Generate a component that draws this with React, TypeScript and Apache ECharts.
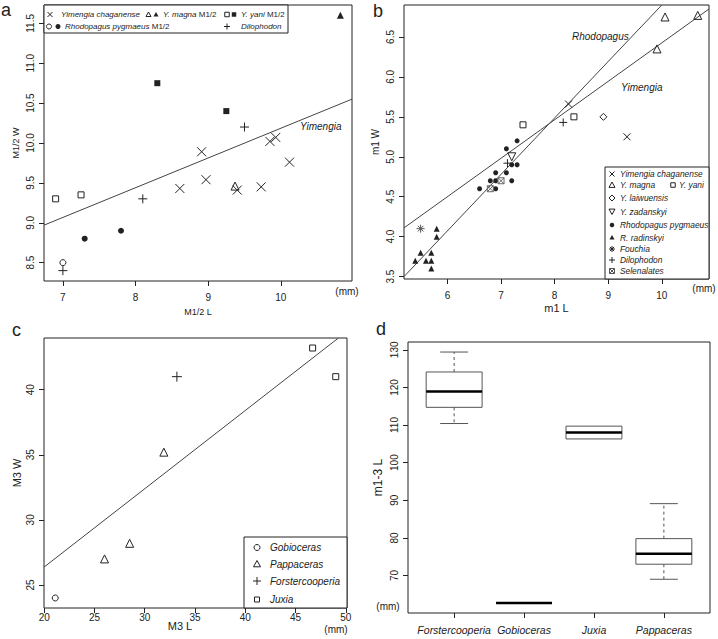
import { useEffect, useRef } from 'react';
import * as echarts from 'echarts';

const FONT = '"Liberation Sans", Arial, Helvetica, sans-serif';
const INK = '#222';
const LINE = '#444';

// ---------- Panel a: M1/2 L vs M1/2 W ----------
const aTicksX = [7, 8, 9, 10];
const aTicksY = [8.5, 9.0, 9.5, 10.0, 10.5, 11.0, 11.5];
const aYimengiaChaganense = [[8.91, 9.89], [9.85, 10.02], [9.93, 10.07], [10.12, 9.76], [8.97, 9.54], [8.61, 9.43], [9.40, 9.41], [9.73, 9.45]];
const aMagnaOpen = [[9.37, 9.46]];
const aMagnaFilled = [[10.82, 11.60]];
const aYaniOpen = [[6.90, 9.30], [7.25, 9.35]];
const aYaniFilled = [[8.30, 10.75], [9.25, 10.40]];
const aRhodoOpen = [[7.00, 8.50]];
const aRhodoFilled = [[7.30, 8.80], [7.80, 8.90]];
const aDilophodon = [[9.50, 10.20], [8.10, 9.30], [7.00, 8.40]];
const aLineYimengia = [[6.74, 8.97], [10.98, 10.55]];

// ---------- Panel b: m1 L vs m1 W ----------
const bTicksX = [6, 7, 8, 9, 10];
const bTicksY = [3.5, 4.0, 4.5, 5.0, 5.5, 6.0, 6.5];
const bYimengiaChaganense = [[8.26, 5.66], [9.35, 5.25]];
const bMagna = [[10.06, 6.75], [10.67, 6.77], [9.91, 6.35]];
const bYani = [[7.41, 5.40], [8.36, 5.50]];
const bLaiwuensis = [[8.91, 5.50]];
const bZadanskyi = [[7.20, 5.00]];
const bRhodoPygmaeus = [[7.10, 5.10], [7.30, 5.20], [7.20, 4.90], [7.30, 4.90], [6.90, 4.80], [7.10, 4.80], [6.80, 4.70], [6.90, 4.70], [7.20, 4.70], [6.60, 4.60], [6.90, 4.60]];
const bRadinskyi = [[5.80, 4.10], [5.80, 4.00], [5.50, 3.80], [5.40, 3.70], [5.60, 3.70], [5.70, 3.80], [5.70, 3.70], [5.70, 3.60]];
const bFouchia = [[5.50, 4.10]];
const bDilophodon = [[8.16, 5.43], [7.12, 4.92]];
const bSelenalates = [[7.00, 4.70], [6.80, 4.60]];
const bLineRhodopagus = [[5.19, 3.50], [10.00, 6.90]];
const bLineYimengia = [[5.19, 4.11], [10.88, 6.85]];

// ---------- Panel c: M3 L vs M3 W ----------
const cTicksX = [20, 25, 30, 35, 40, 45, 50];
const cTicksY = [25, 30, 35, 40];
const cGobioceras = [[21.1, 24.0]];
const cPappaceras = [[26.0, 27.0], [28.5, 28.2], [31.9, 35.2]];
const cForstercooperia = [[33.2, 41.0]];
const cJuxia = [[46.7, 43.2], [49.0, 41.0]];
const cLine = [[20.0, 26.38], [49.25, 43.96]];

// ---------- Panel d: m1-3 L boxplots ----------
const dCategories = ['Forstercooperia', 'Gobioceras', 'Juxia', 'Pappaceras'];
const dTicksY = [70, 80, 90, 100, 110, 120, 130];
// [min, Q1, median, Q3, max]
const dForstercooperia = [110.4, 114.7, 118.9, 124.1, 129.4];
const dGobioceras = [62.7, 62.7, 62.7, 62.7, 62.7];
const dJuxia = [106.3, 106.3, 108.0, 109.7, 109.7];
const dPappaceras = [69.0, 73.0, 75.8, 79.8, 89.1];

const SYM: Record<string, string> = {
  cross: 'path://M0,0L10,10M10,0L0,10',
  plus: 'path://M5,0L5,10M0,5L10,5',
  tri: 'triangle',
  triDown: 'path://M0,0L10,0L5,9Z',
  sq: 'rect',
  circ: 'circle',
  diamond: 'diamond',
  aster: 'path://M5,0L5,10M0,5L10,5M1.5,1.5L8.5,8.5M8.5,1.5L1.5,8.5',
  boxX: 'path://M0,0L10,0L10,10L0,10ZM0,0L10,10M10,0L0,10',
};

function scatter(name: string, data: number[][], kind: string, size: number, filled: boolean, axis: number, color = INK) {
  return {
    name,
    type: 'scatter',
    xAxisIndex: axis,
    yAxisIndex: axis,
    data,
    symbol: SYM[kind],
    symbolSize: size,
    silent: true,
    z: 3,
    itemStyle: filled
      ? { color, borderColor: color, borderWidth: 0, opacity: 1 }
      : { color: 'rgba(0,0,0,0)', borderColor: color, borderWidth: 1, opacity: 1 },
  };
}

function fitLine(name: string, data: number[][], axis: number) {
  return {
    name,
    type: 'line',
    xAxisIndex: axis,
    yAxisIndex: axis,
    data,
    symbol: 'none',
    silent: true,
    clip: true,
    z: 2,
    lineStyle: { color: LINE, width: 1 },
  };
}

function valAxis(gridIndex: number, min: number, max: number, ticks: number[], o: any = {}) {
  return {
    type: 'value',
    gridIndex,
    min,
    max,
    axisLine: { show: false },
    splitLine: { show: false },
    axisTick: { show: true, length: 5, lineStyle: { color: INK }, customValues: ticks },
    axisLabel: {
      customValues: ticks,
      fontSize: o.labelSize ?? 10,
      color: INK,
      fontFamily: FONT,
      margin: o.margin ?? 10,
      rotate: o.rotate ?? 0,
      fontStyle: o.fontStyle ?? 'normal',
      formatter: o.formatter,
    },
    name: o.name ?? '',
    nameLocation: 'middle',
    nameGap: o.nameGap ?? 20,
    nameRotate: o.nameRotate,
    nameTextStyle: { fontSize: o.nameSize ?? 10, color: INK, fontFamily: FONT },
  };
}

function sym(kind: string, x: number, y: number, s: number, color = INK): any[] {
  const h = s / 2;
  const st = { stroke: color, lineWidth: 1, fill: 'none' };
  const fl = { stroke: color, lineWidth: 0, fill: color };
  const ln = (x1: number, y1: number, x2: number, y2: number) => ({ type: 'line', shape: { x1, y1, x2, y2 }, style: st, z: 101 });
  switch (kind) {
    case 'cross': return [ln(x - h, y - h, x + h, y + h), ln(x + h, y - h, x - h, y + h)];
    case 'plus': return [ln(x, y - h, x, y + h), ln(x - h, y, x + h, y)];
    case 'aster': return [ln(x, y - h, x, y + h), ln(x - h, y, x + h, y), ln(x - h * 0.7, y - h * 0.7, x + h * 0.7, y + h * 0.7), ln(x + h * 0.7, y - h * 0.7, x - h * 0.7, y + h * 0.7)];
    case 'tri':
    case 'triF':
      return [{ type: 'polygon', z: 101, shape: { points: [[x, y - h], [x + h, y + h * 0.8], [x - h, y + h * 0.8]] }, style: kind === 'tri' ? st : fl }];
    case 'triDown':
      return [{ type: 'polygon', z: 101, shape: { points: [[x - h, y - h * 0.8], [x + h, y - h * 0.8], [x, y + h]] }, style: st }];
    case 'sq':
    case 'sqF':
      return [{ type: 'rect', z: 101, shape: { x: x - h, y: y - h, width: s, height: s }, style: kind === 'sq' ? st : fl }];
    case 'circ':
    case 'circF':
      return [{ type: 'circle', z: 101, shape: { cx: x, cy: y, r: h }, style: kind === 'circ' ? st : fl }];
    case 'diamond':
      return [{ type: 'polygon', z: 101, shape: { points: [[x, y - h], [x + h, y], [x, y + h], [x - h, y]] }, style: st }];
    case 'boxX':
      return [{ type: 'rect', z: 101, shape: { x: x - h, y: y - h, width: s, height: s }, style: st }, ln(x - h, y - h, x + h, y + h), ln(x + h, y - h, x - h, y + h)];
  }
  return [];
}

function txt(text: string, x: number, y: number, o: any = {}) {
  return {
    type: 'text',
    x,
    y,
    z: 102,
    silent: true,
    style: {
      text,
      fill: INK,
      fontFamily: FONT,
      fontSize: o.size ?? 10,
      fontStyle: o.italic ? 'italic' : 'normal',
      align: o.align ?? 'left',
      verticalAlign: o.va ?? 'middle',
      rich: o.rich,
    },
  };
}

function box(x: number, y: number, w: number, h: number) {
  return { type: 'rect', z: 100, shape: { x, y, width: w, height: h }, style: { fill: '#fff', stroke: INK, lineWidth: 1 } };
}

const richA = { i: { fontStyle: 'italic', fontSize: 8, fontFamily: FONT, fill: INK } };

function buildOption() {
  const legendA = [
    box(44, 5, 244, 28),
    ...sym('cross', 50, 14.5, 5),
    txt('Yimengia chaganense', 61, 14.5, { size: 8, italic: true }),
    ...sym('tri', 148.5, 14.5, 5), ...sym('triF', 156, 14.5, 5),
    txt('{i|Y. magna} M1/2', 163, 14.5, { size: 8, rich: richA }),
    ...sym('sq', 227, 14.5, 4.5), ...sym('sqF', 234, 14.5, 4.5),
    txt('{i|Y. yani} M1/2', 241, 14.5, { size: 8, rich: richA }),
    ...sym('circ', 49, 26.5, 5), ...sym('circF', 58, 26.5, 5),
    txt('{i|Rhodopagus pygmaeus} M1/2', 65, 26.5, { size: 8, rich: richA }),
    ...sym('plus', 227, 26.5, 6),
    txt('Dilophodon', 241, 26.5, { size: 8, italic: true }),
  ];
  const bRows = [174, 185, 198, 211.5, 225, 237.5, 249, 260, 271];
  const bs = 8.4;
  const legendB = [
    box(605, 167, 104, 112),
    ...sym('cross', 612, bRows[0], 5), txt('Yimengia chaganense', 620, bRows[0], { size: bs, italic: true }),
    ...sym('tri', 612, bRows[1], 6), txt('Y. magna', 620, bRows[1], { size: bs, italic: true }),
    ...sym('sq', 673, bRows[1], 4.5), txt('Y. yani', 679, bRows[1], { size: bs, italic: true }),
    ...sym('diamond', 612, bRows[2], 6), txt('Y. laiwuensis', 620, bRows[2], { size: bs, italic: true }),
    ...sym('triDown', 612, bRows[3], 6), txt('Y. zadanskyi', 620, bRows[3], { size: bs, italic: true }),
    ...sym('circF', 612, bRows[4], 4.5), txt('Rhodopagus pygmaeus', 620, bRows[4], { size: bs, italic: true }),
    ...sym('triF', 612, bRows[5], 5), txt('R. radinskyi', 620, bRows[5], { size: bs, italic: true }),
    ...sym('aster', 612, bRows[6], 6), txt('Fouchia', 620, bRows[6], { size: bs, italic: true }),
    ...sym('plus', 612, bRows[7], 6), txt('Dilophodon', 620, bRows[7], { size: bs, italic: true }),
    ...sym('boxX', 612, bRows[8], 5, '#555'), txt('Selenalates', 620, bRows[8], { size: bs, italic: true }),
  ];
  const cRows = [547.5, 564, 581, 599.5];
  const legendC = [
    box(244, 537, 103, 71),
    ...sym('circ', 257, cRows[0], 6), txt('Gobioceras', 270, cRows[0], { size: 10, italic: true }),
    ...sym('tri', 257, cRows[1], 7), txt('Pappaceras', 270, cRows[1], { size: 10, italic: true }),
    ...sym('plus', 257, cRows[2], 8), txt('Forstercooperia', 270, cRows[2], { size: 10, italic: true }),
    ...sym('sq', 257, cRows[3], 5), txt('Juxia', 270, cRows[3], { size: 10, italic: true }),
  ];

  const graphic = [
    txt('a', 1, 10, { size: 18 }),
    txt('b', 373, 11, { size: 18 }),
    txt('c', 12, 330, { size: 18 }),
    txt('d', 376, 329, { size: 18 }),
    txt('(mm)', 347, 291, { size: 10, align: 'center' }),
    txt('(mm)', 704, 288, { size: 10, align: 'center' }),
    txt('(mm)', 336, 629, { size: 10, align: 'center' }),
    txt('(mm)', 388, 606, { size: 10, align: 'center' }),
    txt('M3 L', 180, 626, { size: 11, align: 'center' }),
    txt('Yimengia', 300, 126, { size: 10, italic: true }),
    txt('Rhodopagus', 572, 36, { size: 10, italic: true }),
    txt('Yimengia', 621, 87, { size: 10, italic: true }),
    ...legendA,
    ...legendB,
    ...legendC,
  ];

  const f1 = (v: number) => v.toFixed(1);

  return {
    animation: false,
    backgroundColor: '#fff',
    textStyle: { fontFamily: FONT },
    grid: [
      { left: 44, top: 5, width: 308, height: 276, show: true, borderColor: INK, borderWidth: 1 },
      { left: 404, top: 5, width: 305, height: 274, show: true, borderColor: INK, borderWidth: 1 },
      { left: 44, top: 338, width: 303, height: 270, show: true, borderColor: INK, borderWidth: 1 },
      { left: 408, top: 342, width: 302, height: 271, show: true, borderColor: INK, borderWidth: 1 },
    ],
    xAxis: [
      valAxis(0, 6.74, 10.98, aTicksX, { margin: 11, name: 'M1/2 L', nameGap: 26, nameSize: 9 }),
      valAxis(1, 5.19, 10.88, bTicksX, { margin: 11, name: 'm1 L', nameGap: 23, nameSize: 11 }),
      valAxis(2, 19.98, 50.12, cTicksX, { margin: 4 }),
      valAxis(3, 0.34, 4.66, [1, 2, 3, 4], { margin: 11, labelSize: 10.5, fontStyle: 'italic', formatter: (v: number) => dCategories[Math.round(v) - 1] ?? '' }),
    ],
    yAxis: [
      valAxis(0, 8.27, 11.73, aTicksY, { rotate: 90, margin: 9, formatter: f1, name: 'M1/2 W', nameGap: 24, nameRotate: 90, nameSize: 9 }),
      valAxis(1, 3.47, 6.90, bTicksY, { rotate: 90, margin: 9, formatter: f1, name: 'm1 W', nameGap: 24, nameRotate: 90, nameSize: 10 }),
      valAxis(2, 23.23, 43.97, cTicksY, { rotate: 90, margin: 9, name: 'M3 W', nameGap: 22, nameRotate: 90, nameSize: 11 }),
      valAxis(3, 60.03, 132.07, dTicksY, { rotate: 90, margin: 9, name: 'm1-3 L', nameGap: 24, nameRotate: 90, nameSize: 12 }),
    ],
    series: [
      // panel a
      fitLine('Yimengia fit (a)', aLineYimengia, 0),
      scatter('Yimengia chaganense', aYimengiaChaganense, 'cross', 9, false, 0),
      scatter('Y. magna M1/2 (open)', aMagnaOpen, 'tri', 8, false, 0),
      scatter('Y. magna M1/2 (filled)', aMagnaFilled, 'tri', 7, true, 0),
      scatter('Y. yani M1/2 (open)', aYaniOpen, 'sq', 6, false, 0),
      scatter('Y. yani M1/2 (filled)', aYaniFilled, 'sq', 6, true, 0),
      scatter('Rhodopagus pygmaeus M1/2 (open)', aRhodoOpen, 'circ', 6, false, 0),
      scatter('Rhodopagus pygmaeus M1/2 (filled)', aRhodoFilled, 'circ', 6, true, 0),
      scatter('Dilophodon (a)', aDilophodon, 'plus', 9, false, 0),
      // panel b
      fitLine('Rhodopagus fit', bLineRhodopagus, 1),
      fitLine('Yimengia fit (b)', bLineYimengia, 1),
      scatter('Yimengia chaganense (b)', bYimengiaChaganense, 'cross', 7, false, 1),
      scatter('Y. magna', bMagna, 'tri', 8, false, 1),
      scatter('Y. yani', bYani, 'sq', 6, false, 1),
      scatter('Y. laiwuensis', bLaiwuensis, 'diamond', 7, false, 1),
      scatter('Y. zadanskyi', bZadanskyi, 'triDown', 8, false, 1),
      scatter('Rhodopagus pygmaeus', bRhodoPygmaeus, 'circ', 5, true, 1),
      scatter('R. radinskyi', bRadinskyi, 'tri', 6, true, 1),
      scatter('Fouchia', bFouchia, 'aster', 8, false, 1, '#555'),
      scatter('Dilophodon (b)', bDilophodon, 'plus', 8, false, 1),
      scatter('Selenalates', bSelenalates, 'boxX', 6, false, 1, '#666'),
      // panel c
      fitLine('fit (c)', cLine, 2),
      scatter('Gobioceras', cGobioceras, 'circ', 6, false, 2),
      scatter('Pappaceras', cPappaceras, 'tri', 8, false, 2),
      scatter('Forstercooperia', cForstercooperia, 'plus', 10, false, 2),
      scatter('Juxia', cJuxia, 'sq', 6, false, 2),
      // panel d
      {
        name: 'm1-3 L',
        type: 'custom',
        xAxisIndex: 3,
        yAxisIndex: 3,
        silent: true,
        data: [dForstercooperia, dGobioceras, dJuxia, dPappaceras].map((s, i) => [i + 1, ...s]),
        encode: { x: 0, y: [1, 2, 3, 4, 5] },
        renderItem: (_p: any, api: any) => {
          const x = api.value(0);
          const mn = api.value(1), q1 = api.value(2), md = api.value(3), q3 = api.value(4), mx = api.value(5);
          const cx = api.coord([x, md])[0];
          const yy = (v: number) => api.coord([x, v])[1];
          const hb = api.size([0.4, 0])[0];
          const hc = api.size([0.2, 0])[0];
          const gray = '#555';
          const children: any[] = [];
          if (mx > q3) {
            children.push({ type: 'line', shape: { x1: cx, y1: yy(q3), x2: cx, y2: yy(mx) }, style: { stroke: gray, lineWidth: 1, lineDash: [3, 3] } });
            children.push({ type: 'line', shape: { x1: cx - hc, y1: yy(mx), x2: cx + hc, y2: yy(mx) }, style: { stroke: gray, lineWidth: 1 } });
          }
          if (mn < q1) {
            children.push({ type: 'line', shape: { x1: cx, y1: yy(q1), x2: cx, y2: yy(mn) }, style: { stroke: gray, lineWidth: 1, lineDash: [3, 3] } });
            children.push({ type: 'line', shape: { x1: cx - hc, y1: yy(mn), x2: cx + hc, y2: yy(mn) }, style: { stroke: gray, lineWidth: 1 } });
          }
          children.push({ type: 'rect', shape: { x: cx - hb, y: yy(q3), width: 2 * hb, height: yy(q1) - yy(q3) }, style: { stroke: gray, fill: 'none', lineWidth: 1 } });
          children.push({ type: 'line', shape: { x1: cx - hb, y1: yy(md), x2: cx + hb, y2: yy(md) }, style: { stroke: '#000', lineWidth: 2.5 } });
          return { type: 'group', children };
        },
      },
    ],
    graphic,
  };
}

export default function App() {
  const ref = useRef<HTMLDivElement>(null);
  useEffect(() => {
    if (!ref.current) return;
    const chart = echarts.init(ref.current, null, { renderer: 'svg' });
    chart.setOption(buildOption() as any);
    return () => chart.dispose();
  }, []);
  return <div ref={ref} style={{ position: 'fixed', left: 0, top: 0, width: 718, height: 639, background: '#fff' }} />;
}
